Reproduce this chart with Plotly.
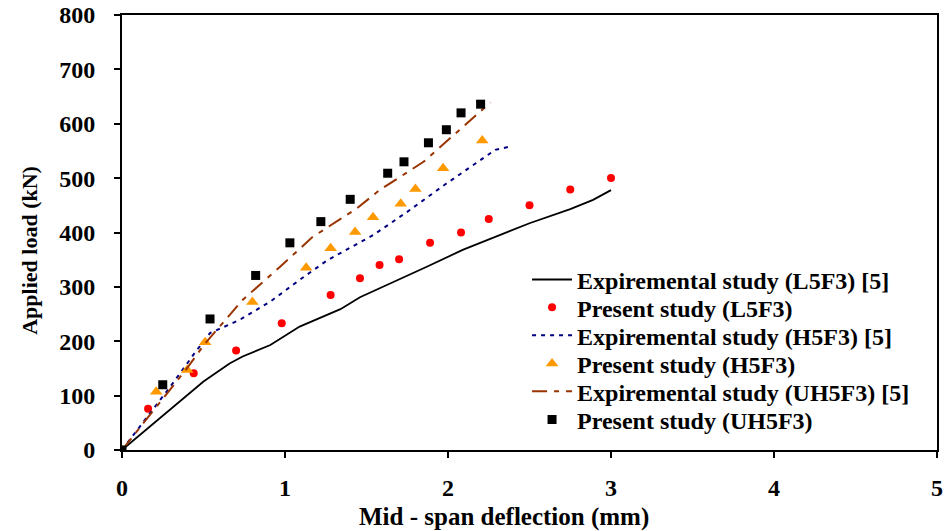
import plotly.graph_objects as go

# Experimental load-deflection curves (mm, kN)
exp_l5f3_x = [0, 0.37, 0.50, 0.66, 0.74, 0.91, 1.09, 1.34, 1.46, 1.87, 2.09, 2.50, 2.75, 2.89, 3.00]
exp_l5f3_y = [0, 92, 126, 159, 172, 193, 227, 259, 281, 337, 368, 417, 443, 460, 478]

exp_h5f3_x = [0, 0.15, 0.30, 0.45, 0.54, 0.72, 0.91, 1.09, 1.26, 1.54, 1.75, 1.99, 2.29, 2.38]
exp_h5f3_y = [0, 58, 118, 180, 215, 239, 273, 313, 349, 395, 438, 490, 552, 558]

exp_uh5f3_x = [0, 0.39, 0.51, 0.74, 0.97, 1.17, 1.44, 1.58, 1.85, 2.07, 2.22, 2.26]
exp_uh5f3_y = [0, 147, 196, 276, 337, 392, 444, 478, 530, 588, 628, 639]

# Numerical results of the present study
pre_l5f3_x = [0, 0.16, 0.44, 0.70, 0.98, 1.28, 1.46, 1.58, 1.70, 1.89, 2.08, 2.25, 2.50, 2.75, 3.00]
pre_l5f3_y = [0, 76, 141, 183, 233, 285, 316, 340, 351, 381, 400, 425, 450, 479, 500]

pre_h5f3_x = [0, 0.21, 0.40, 0.51, 0.80, 1.13, 1.28, 1.43, 1.54, 1.71, 1.80, 1.97, 2.21]
pre_h5f3_y = [0, 107, 147, 198, 272, 335, 371, 401, 428, 453, 480, 518, 569]

pre_uh5f3_x = [0, 0.25, 0.54, 0.82, 1.03, 1.22, 1.40, 1.63, 1.73, 1.88, 1.99, 2.08, 2.20]
pre_uh5f3_y = [0, 120, 241, 321, 381, 420, 461, 509, 530, 565, 589, 620, 636]

x_ticks = [0, 1, 2, 3, 4, 5]
y_ticks = [0, 100, 200, 300, 400, 500, 600, 700, 800]

FONT = "Liberation Serif"

# (name, legend id, x, y, mode, line, marker)
series = [
    ("Expiremental study (L5F3) [5]", "legend", exp_l5f3_x, exp_l5f3_y, "lines",
     dict(color="black", width=1.8), None),
    ("Present study (L5F3)", "legend2", pre_l5f3_x, pre_l5f3_y, "markers",
     None, dict(color="#ff0000", size=8, symbol="circle")),
    ("Expiremental study (H5F3) [5]", "legend3", exp_h5f3_x, exp_h5f3_y, "lines",
     dict(color="#000080", width=2, dash="4px,5px"), None),
    ("Present study (H5F3)", "legend4", pre_h5f3_x, pre_h5f3_y, "markers",
     None, dict(color="#ff9900", size=11, symbol="triangle-up")),
    ("Expiremental study (UH5F3) [5]", "legend5", exp_uh5f3_x, exp_uh5f3_y, "lines",
     dict(color="#993300", width=2, dash="15px,7px,5px,7px"), None),
    ("Present study (UH5F3)", "legend6", pre_uh5f3_x, pre_uh5f3_y, "markers",
     None, dict(color="black", size=9, symbol="square")),
]

fig = go.Figure()
for name, leg, xs, ys, mode, line, marker in series:
    kw = dict(x=xs, y=ys, mode=mode, name=name, legend=leg, showlegend=True)
    if line is not None:
        kw["line"] = line
    if marker is not None:
        kw["marker"] = marker
    fig.add_trace(go.Scatter(**kw))

axis_common = dict(
    showgrid=False, zeroline=False, showline=True, linecolor="black", linewidth=2,
    mirror=True, ticks="outside", ticklen=6, tickwidth=2, tickcolor="black",
    automargin=False,
    tickfont=dict(family=FONT, size=24, color="black", weight="bold"),
)

fig.update_xaxes(range=[0, 5], tickvals=x_ticks, ticklabelstandoff=9, **axis_common)
fig.update_yaxes(range=[0, 800], tickvals=y_ticks, ticklabelstandoff=14, **axis_common)

fig.add_annotation(text="Mid - span deflection (mm)", xref="paper", yref="paper",
                   x=0.469, y=-0.154, showarrow=False, xanchor="center", yanchor="middle",
                   font=dict(family=FONT, size=25, color="black", weight="bold"))
fig.add_annotation(text="Applied load (kN)", xref="paper", yref="paper",
                   x=-0.113, y=0.46, showarrow=False, xanchor="center", yanchor="middle",
                   textangle=-90,
                   font=dict(family=FONT, size=22, color="black", weight="bold"))

# one legend per row so each entry sits at its own height
legend_font = dict(family=FONT, size=24, color="black", weight="bold")
row_y = [0.391, 0.327, 0.263, 0.198, 0.134, 0.069]
legend_ids = ["legend", "legend2", "legend3", "legend4", "legend5", "legend6"]
legends = {}
for lid, yy in zip(legend_ids, row_y):
    legends[lid] = dict(x=0.497, y=yy, xanchor="left", yanchor="middle",
                        bgcolor="rgba(0,0,0,0)", borderwidth=0,
                        font=legend_font, itemwidth=40)

fig.update_layout(
    width=946, height=531,
    margin=dict(l=122, r=9, t=15, b=81),
    paper_bgcolor="white", plot_bgcolor="white",
    showlegend=True,
    **legends,
)

fig.write_html("out.html")
